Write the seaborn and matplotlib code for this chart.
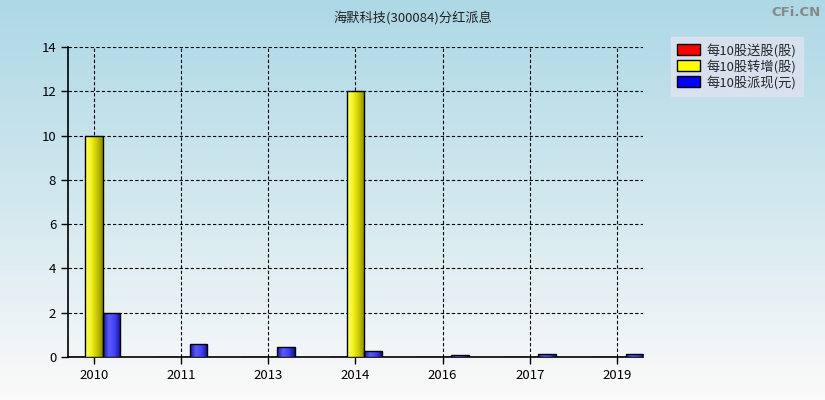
import numpy as np
import pandas as pd
import matplotlib
matplotlib.use("Agg")
import matplotlib.pyplot as plt
from matplotlib.colors import LinearSegmentedColormap
from matplotlib.patches import Patch
import seaborn as sns

years = ["2010", "2011", "2013", "2014", "2016", "2017", "2019"]
song_gu = [0, 0, 0, 0, 0, 0, 0]          # 每10股送股(股)
zhuan_zeng = [10, 0, 0, 12, 0, 0, 0]     # 每10股转增(股)
pai_xian = [2, 0.6, 0.45, 0.28, 0.1, 0.15, 0.15]  # 每10股派现(元)
series_names = ["每10股送股(股)", "每10股转增(股)", "每10股派现(元)"]
title = "海默科技(300084)分红派息"

df = pd.DataFrame({
    "year": years * 3,
    "value": song_gu + zhuan_zeng + pai_xian,
    "series": [series_names[0]] * 7 + [series_names[1]] * 7 + [series_names[2]] * 7,
})

sns.set_style("white")
plt.rcParams["font.family"] = ["Noto Sans CJK SC", "DejaVu Sans"]

fig = plt.figure(figsize=(8.25, 4), dpi=100)

# background gradient for the whole figure
bg = fig.add_axes([0, 0, 1, 1], zorder=-10)
grad = np.linspace(0, 1, 256).reshape(-1, 1)
bg_cmap = LinearSegmentedColormap.from_list("bg", ["#add8e6", "#d2e8ef", "#fcfafa"])
bg.imshow(grad, aspect="auto", cmap=bg_cmap, extent=[0, 1, 0, 1])
bg.axis("off")

ax = fig.add_axes([0.0824, 0.1075, 0.697, 0.775])
ax.patch.set_alpha(0)

palette = {series_names[0]: "#ff0000", series_names[1]: "#ffff00", series_names[2]: "#0000ff"}
sns.barplot(data=df, x="year", y="value", hue="series", hue_order=series_names,
            palette=palette, saturation=1, width=0.6, edgecolor="black", linewidth=1,
            ax=ax, legend=False, zorder=3)

# gradient shading on bars
cmaps = {
    "#ffff00": LinearSegmentedColormap.from_list("y", ["#ffff70", "#f4f420", "#c8c800", "#8c8c00"]),
    "#0000ff": LinearSegmentedColormap.from_list("b", ["#1818a0", "#5a5aff", "#4040f0", "#101090"]),
}
hgrad = np.linspace(0, 1, 64).reshape(1, -1)
for p in list(ax.patches):
    h = p.get_height()
    if h <= 0:
        continue
    fc = matplotlib.colors.to_hex(p.get_facecolor())
    if fc in cmaps:
        x0 = p.get_x()
        w = p.get_width()
        im = ax.imshow(hgrad, aspect="auto", cmap=cmaps[fc],
                       extent=[x0, x0 + w, 0, h], zorder=3.5)
        im.set_clip_path(p)
        p.set_zorder(4)
        p.set_facecolor("none")

ax.set_xlim(-0.3, 6.3)
ax.set_ylim(0, 14)
ax.set_yticks(range(0, 15, 2))
ax.set_xlabel("")
ax.set_ylabel("")
ax.grid(True, color="black", linestyle=(0, (3, 2)), linewidth=0.8, zorder=1)
ax.set_axisbelow(True)
for s in ["top", "right"]:
    ax.spines[s].set_visible(False)
for s in ["left", "bottom"]:
    ax.spines[s].set_color("black")
    ax.spines[s].set_linewidth(1.2)
ax.tick_params(axis="both", which="both", direction="out", length=5, width=1,
               colors="black", labelsize=9.5, left=True, bottom=True)

handles = [Patch(facecolor=palette[n], edgecolor="black", label=n) for n in series_names]
leg = fig.legend(handles=handles, loc="upper left", bbox_to_anchor=(0.805, 0.925),
                 frameon=True, fancybox=False, fontsize=9.5, handlelength=1.7,
                 handleheight=0.9, labelspacing=0.15, borderpad=0.5, handletextpad=0.5)
leg.get_frame().set_facecolor("#dfe3f0")
leg.get_frame().set_edgecolor("#dfe3f0")

fig.text(0.5, 0.955, title, ha="center", va="center", fontsize=9.5, color="#222222")
fig.text(0.995, 0.985, "CFi.CN", ha="right", va="top", fontsize=9.5,
         color="#888888", fontweight="bold", family="DejaVu Sans")

fig.savefig("out.png", dpi=100)
